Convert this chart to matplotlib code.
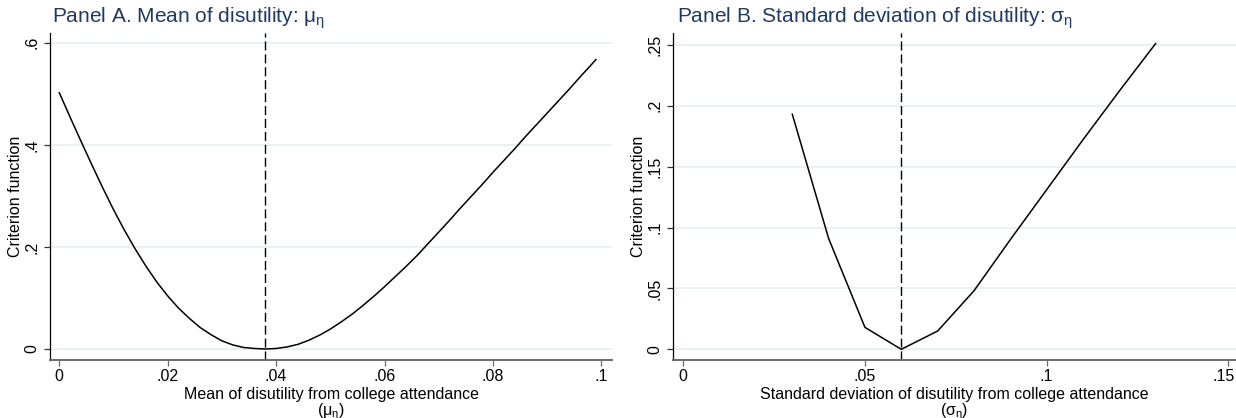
import numpy as np
import matplotlib
matplotlib.use('Agg')
import matplotlib.pyplot as plt
from matplotlib.transforms import ScaledTranslation

plt.rcParams['font.family'] = ['Liberation Sans', 'DejaVu Sans']
plt.rcParams['mathtext.fontset'] = 'custom'
plt.rcParams['mathtext.rm'] = 'Liberation Sans'
plt.rcParams['mathtext.it'] = 'Liberation Sans'

# panel A: criterion over mean of disutility
mu_x = [0.000, 0.002, 0.004, 0.006, 0.008, 0.010, 0.012, 0.014, 0.016, 0.018,
        0.020, 0.022, 0.024, 0.026, 0.028, 0.030, 0.032, 0.034, 0.036, 0.038,
        0.040, 0.042, 0.044, 0.046, 0.048, 0.050, 0.052, 0.054, 0.056, 0.058,
        0.060, 0.062, 0.064, 0.066, 0.068, 0.070, 0.072, 0.074, 0.076, 0.078,
        0.080, 0.082, 0.084, 0.086, 0.088, 0.090, 0.092, 0.094, 0.096, 0.098,
        0.099]
mu_y = [0.502, 0.454, 0.407, 0.361, 0.316, 0.273, 0.233, 0.196, 0.162, 0.131,
        0.104, 0.080, 0.060, 0.042, 0.028, 0.016, 0.008, 0.003, 0.001, 0.000,
        0.001, 0.004, 0.009, 0.017, 0.027, 0.039, 0.053, 0.068, 0.085, 0.103,
        0.122, 0.142, 0.162, 0.183, 0.206, 0.229, 0.252, 0.276, 0.299, 0.322,
        0.346, 0.369, 0.392, 0.416, 0.439, 0.462, 0.485, 0.508, 0.532, 0.555,
        0.567]
mu_hat = 0.038

# panel B: criterion over sd of disutility
sd_x = [0.03, 0.04, 0.05, 0.06, 0.07, 0.08, 0.09, 0.10, 0.11, 0.12, 0.13]
sd_y = [0.193, 0.091, 0.018, 0.000, 0.015, 0.048, 0.090, 0.131, 0.172, 0.212, 0.251]
sd_hat = 0.06

xt_a = [0, 0.02, 0.04, 0.06, 0.08, 0.1]
xl_a = ['0', '.02', '.04', '.06', '.08', '.1']
yt_a = [0, 0.2, 0.4, 0.6]
yl_a = ['0', '.2', '.4', '.6']
xt_b = [0, 0.05, 0.1, 0.15]
xl_b = ['0', '.05', '.1', '.15']
yt_b = [0, 0.05, 0.1, 0.15, 0.2, 0.25]
yl_b = ['0', '.05', '.1', '.15', '.2', '.25']

W, H = 1236, 418
fig = plt.figure(figsize=(W/100, H/100), dpi=100)
title_col = '#1f3a63'
grid_col = '#e4edef'

def px(l, t, r, b):
    return [l/W, 1-b/H, (r-l)/W, (b-t)/H]

def style(ax, xt, xl, yt, yl, xlim, ylim):
    ax.set_xlim(xlim)
    ax.set_ylim(ylim)
    ax.set_xticks(xt)
    ax.set_xticklabels(xl)
    ax.set_yticks(yt)
    ax.set_yticklabels(yl, rotation=90, va='center')
    for s in ['top', 'right']:
        ax.spines[s].set_visible(False)
    ax.spines['left'].set_color('black')
    ax.spines['left'].set_linewidth(0.9)
    ax.spines['bottom'].set_color('#6a6a6a')
    ax.spines['bottom'].set_linewidth(1.4)
    ax.tick_params(axis='x', length=4.5, width=0.9, color='#6a6a6a', pad=2, labelsize=11.5)
    ax.tick_params(axis='y', length=4.5, width=0.9, color='#333333', pad=3, labelsize=11.5)
    for y in yt:
        ax.axhline(y, color=grid_col, lw=1.1, zorder=0)

axA = fig.add_axes(px(50, 33, 612, 360))
axA.plot(mu_x, mu_y, color='black', lw=1.1)
axA.axvline(mu_hat, color='black', lw=1.0, dashes=(6.5, 2.8))
style(axA, xt_a, xl_a, yt_a, yl_a, (-0.001716, 0.10197), (-0.02155, 0.619))
axA.set_ylabel('Criterion function', fontsize=11.5, labelpad=1)
axA.set_xlabel('Mean of disutility from college attendance\n($\\mu_\\eta$)',
               fontsize=11.5, labelpad=2, linespacing=1.0)
fig.text(52/W, 1-23/H, 'Panel A. Mean of disutility: $\\mu_\\eta$',
         fontsize=15, color=title_col, ha='left', va='baseline')

axB = fig.add_axes(px(673, 33, 1236, 360))
axB.plot(sd_x, sd_y, color='black', lw=1.1)
axB.axvline(sd_hat, color='black', lw=1.0, dashes=(6.5, 2.8))
style(axB, xt_b, xl_b, yt_b, yl_b, (-0.002835, 0.15213), (-0.00878, 0.2597))
axB.set_ylabel('Criterion function', fontsize=11.5, labelpad=1)
axB.set_xlabel('Standard deviation of disutility from college attendance\n($\\sigma_\\eta$)',
               fontsize=11.5, labelpad=2, linespacing=1.0)
fig.text(677/W, 1-23/H, 'Panel B. Standard deviation of disutility: $\\sigma_\\eta$',
         fontsize=15, color=title_col, ha='left', va='baseline')

# keep the last tick label inside the canvas
last = axB.get_xticklabels()[-1]
last.set_transform(last.get_transform() + ScaledTranslation(-5/100, 0, fig.dpi_scale_trans))

fig.savefig('out.png', dpi=100)
